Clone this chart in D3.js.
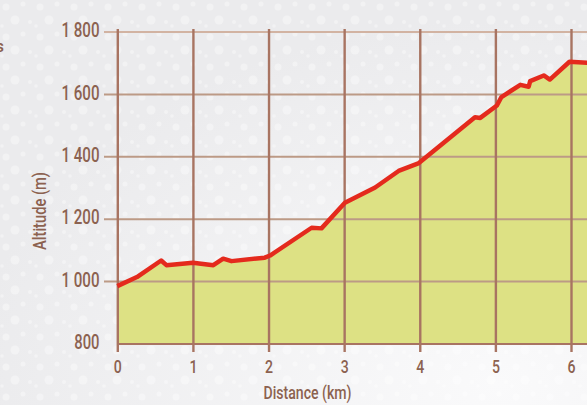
<!DOCTYPE html>
<html>
<head>
    <title>Altitude profile</title>
    <script src="https://d3js.org/d3.v7.min.js"></script>
    <style>
        body { margin: 0; background: #efeff1; }
        svg { display: block; }
        text { font-family: Roboto, "DejaVu Sans Condensed", "Liberation Sans", sans-serif; fill: #8c6250; font-weight: 500; }
    </style>
</head>
<body>
    <div id="container"></div>

    <script>
        // profile
        var distance = [0, 0.26, 0.58, 0.65, 1.0, 1.27, 1.40, 1.51, 1.95, 2.02, 2.57, 2.70, 3.01, 3.41, 3.72, 3.98, 4.73, 4.80, 5.02, 5.08, 5.33, 5.44, 5.46, 5.64, 5.72, 5.98, 6.25];
        var altitude = [984, 1013, 1066, 1051, 1059, 1051, 1072, 1064, 1075, 1082, 1171, 1169, 1251, 1300, 1353, 1377, 1525, 1523, 1563, 1590, 1629, 1623, 1641, 1659, 1646, 1703, 1699];
        var xTicks = [0, 1, 2, 3, 4, 5, 6];
        var yTicks = [800, 1000, 1200, 1400, 1600, 1800];
        var yTickLabels = ["800", "1 000", "1 200", "1 400", "1 600", "1 800"];

        var width = 587, height = 405;
        var points = distance.map(function(d, i) { return { km: d, alt: altitude[i] }; });

        var x = d3.scaleLinear().domain([0, 6]).range([117.3, 571]);
        var y = d3.scaleLinear().domain([800, 1800]).range([343.5, 31.5]);

        var svg = d3.select("#container").append("svg")
            .attr("width", width)
            .attr("height", height);

        var defs = svg.append("defs");
        var grad = defs.append("radialGradient")
            .attr("id", "bg")
            .attr("cx", "0.85").attr("cy", "0.95").attr("r", "0.9");
        grad.append("stop").attr("offset", "0%").attr("stop-color", "#fafafb");
        grad.append("stop").attr("offset", "100%").attr("stop-color", "#ebebed");

        // halftone dots
        var pat = defs.append("pattern")
            .attr("id", "dots")
            .attr("patternUnits", "userSpaceOnUse")
            .attr("width", 34).attr("height", 30);
        [[6, 7, 3.5], [23, 4, 2.5], [15, 20, 4.5], [30, 22, 2], [2, 26, 1.8]].forEach(function(c) {
            pat.append("circle").attr("cx", c[0]).attr("cy", c[1]).attr("r", c[2]).attr("fill", "#fff");
        });

        svg.append("rect").attr("width", width).attr("height", height).attr("fill", "url(#bg)");
        svg.append("rect").attr("width", width).attr("height", height)
            .attr("fill", "url(#dots)").attr("opacity", 0.35);

        // area under the profile
        var area = d3.area()
            .x(function(d) { return x(d.km); })
            .y0(y(800))
            .y1(function(d) { return y(d.alt); });

        svg.append("path")
            .datum(points)
            .attr("d", area)
            .attr("fill", "#dde184");

        // horizontal grid + y labels
        var yAxis = svg.append("g")
            .attr("transform", "translate(104,0)")
            .call(d3.axisLeft(y)
                .tickValues(yTicks)
                .tickSize(-(width - 104))
                .tickPadding(4.5)
                .tickFormat(function(d, i) { return yTickLabels[i]; }));
        yAxis.select(".domain").remove();
        yAxis.selectAll(".tick line")
            .attr("stroke", function(d) { return d == 1800 ? "#d2b3a2" : "#bc9a86"; })
            .attr("stroke-width", 2);
        yAxis.selectAll(".tick line").filter(function(d) { return d == 800; })
            .attr("x1", 13).attr("stroke", "#a87462");
        yAxis.selectAll(".tick text")
            .attr("font-size", 21)
            .attr("fill", "#8c6250")
            .attr("dy", "0.25em")
            .attr("lengthAdjust", "spacingAndGlyphs")
            .attr("textLength", function(d, i) {
                var s = yTickLabels[i];
                return s.replace(/ /g, "").length * 8.4 + (s.indexOf(" ") >= 0 ? 4.5 : 0);
            });

        // vertical grid + x labels
        var xAxis = svg.append("g")
            .attr("transform", "translate(0,352)")
            .call(d3.axisBottom(x)
                .tickValues(xTicks)
                .tickSize(-(352 - 29))
                .tickPadding(8)
                .tickFormat(d3.format("d")));
        xAxis.select(".domain").remove();
        xAxis.selectAll(".tick line")
            .attr("stroke", "#a87462")
            .attr("stroke-width", 2.4);
        xAxis.selectAll(".tick text")
            .attr("font-size", 19)
            .attr("fill", "#8c6250")
            .attr("lengthAdjust", "spacingAndGlyphs")
            .attr("textLength", 8);

        // profile line
        var line = d3.line()
            .x(function(d) { return x(d.km); })
            .y(function(d) { return y(d.alt); });

        svg.append("path")
            .datum(points)
            .attr("d", line)
            .attr("fill", "none")
            .attr("stroke", "#e42a1d")
            .attr("stroke-width", 4.5)
            .attr("stroke-linejoin", "round");

        // axis titles
        svg.append("text")
            .attr("x", 307.5).attr("y", 399)
            .attr("text-anchor", "middle")
            .attr("font-size", 18)
            .attr("lengthAdjust", "spacingAndGlyphs")
            .attr("textLength", 88)
            .text("Distance (km)");

        svg.append("text")
            .attr("transform", "translate(46,211) rotate(-90)")
            .attr("text-anchor", "middle")
            .attr("font-size", 18)
            .attr("lengthAdjust", "spacingAndGlyphs")
            .attr("textLength", 78)
            .text("Altitude (m)");

        // tail of a cut-off heading on the left edge
        svg.append("text")
            .attr("x", 4).attr("y", 52)
            .attr("text-anchor", "end")
            .attr("font-size", 17)
            .text("s");
    </script>
</body>
</html>
